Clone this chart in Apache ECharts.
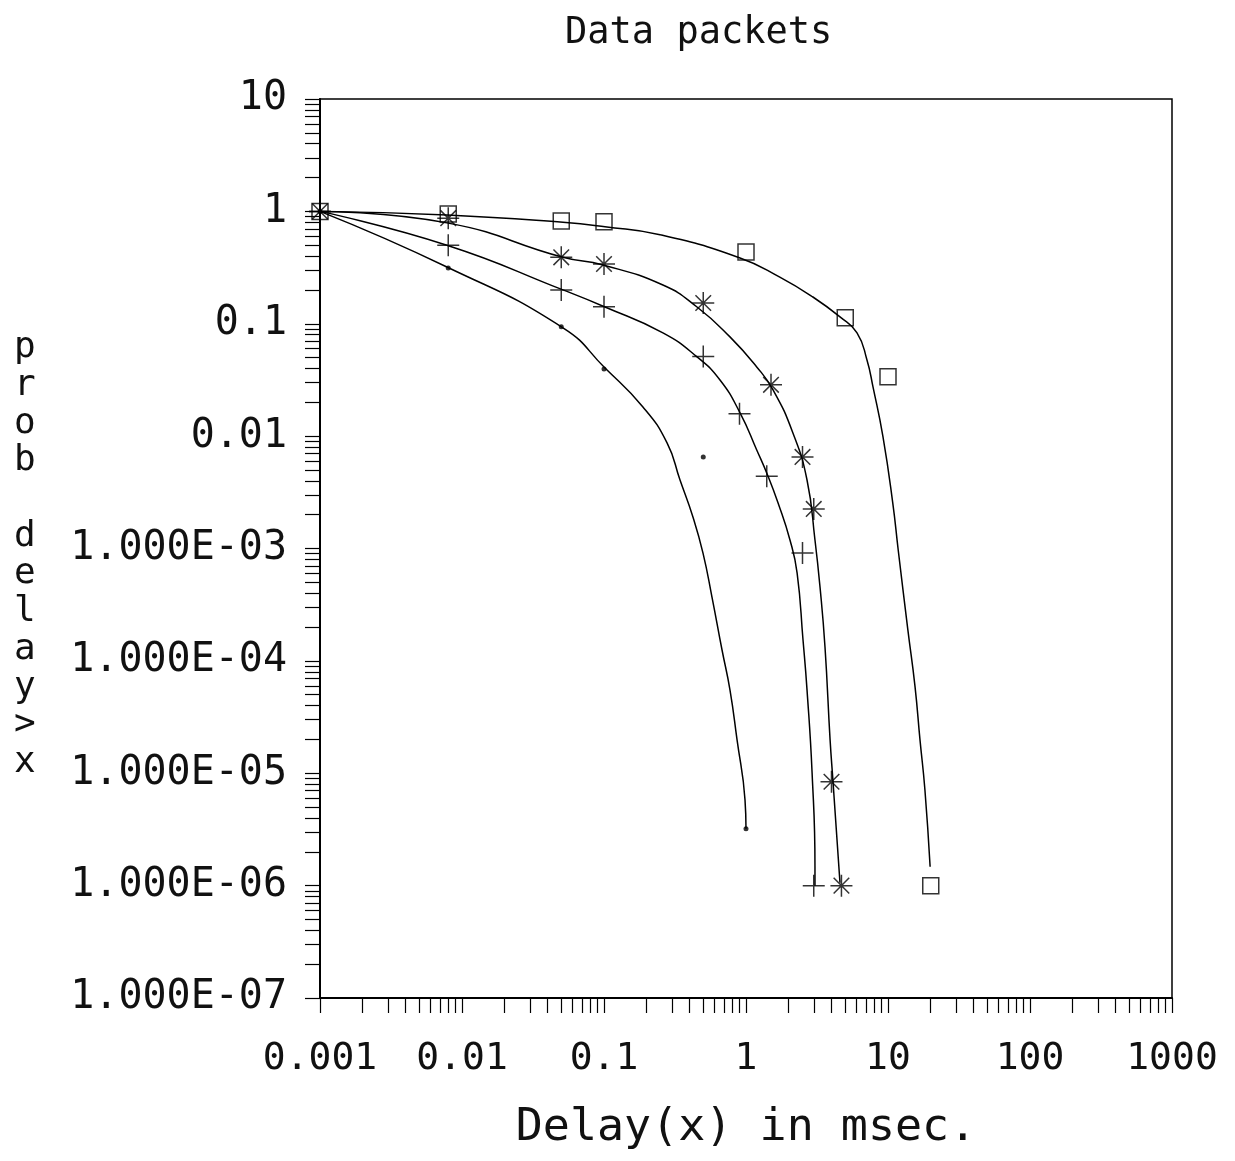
<!DOCTYPE html>
<html>
<head>
<meta charset="utf-8">
<script src="https://cdn.jsdelivr.net/npm/echarts@6/dist/echarts.min.js"></script>
<style>
  html, body { margin: 0; padding: 0; background: #fff; }
  #chart { width: 1235px; height: 1161px; }
</style>
</head>
<body>
<div id="chart"></div>
<script>
// Axis tick labels
const xTickValues = [0.001, 0.01, 0.1, 1, 10, 100, 1000];
const xTickLabels = ['0.001', '0.01', '0.1', '1', '10', '100', '1000'];
const yTickValues = [10, 1, 0.1, 0.01, 1e-3, 1e-4, 1e-5, 1e-6, 1e-7];
const yTickLabels = ['10', '1', '0.1', '0.01', '1.000E-03', '1.000E-04', '1.000E-05', '1.000E-06', '1.000E-07'];

// Fitted curves: P(delay > x) against delay x (msec)
const squareCurve = [[0.001, 1], [0.00783, 0.93], [0.0514, 0.80], [0.1016, 0.73], [0.248, 0.62],
  [0.908, 0.385], [1.73, 0.26], [2.96, 0.173], [4.59, 0.115], [6.05, 0.083], [7.11, 0.0476], [7.84, 0.0274],
  [9.22, 0.00984], [10.8, 0.00255], [11.8, 9.7e-4], [13.8, 1.89e-4], [15.5, 5.9e-5], [16.8, 1.98e-5],
  [18.2, 7.1e-6], [19.8, 1.47e-6]];
const starCurve = [[0.001, 1], [0.00783, 0.79], [0.0514, 0.39], [0.0984, 0.333], [0.260, 0.221], [0.452, 0.141],
  [0.771, 0.0764], [1.19, 0.0413], [1.55, 0.0258], [2.14, 0.01067], [2.69, 0.00407], [3.06, 0.00119],
  [3.32, 4.55e-4], [3.60, 1.33e-4], [3.91, 1.98e-5], [4.10, 8.4e-6], [4.59, 1.06e-6]];
const plusCurve = [[0.001, 1], [0.00783, 0.50], [0.0514, 0.20], [0.1016, 0.141], [0.260, 0.083], [0.452, 0.0507],
  [0.656, 0.0316], [0.908, 0.0161], [1.19, 0.00753], [1.43, 0.0044], [1.68, 0.00255], [2.04, 0.00119],
  [2.29, 6.07e-4], [2.52, 1.54e-4], [2.69, 5.52e-5], [2.92, 1.01e-5], [3.06, 1.47e-6], [3.06, 1e-6]];
const dotCurve = [[0.001, 1], [0.00783, 0.32], [0.0514, 0.092], [0.1016, 0.0404], [0.188, 0.0182], [0.278, 0.00871],
  [0.343, 0.00407], [0.423, 0.00191], [0.498, 9.1e-4], [0.576, 3.7e-4], [0.678, 1.25e-4],
  [0.771, 5.52e-5], [0.865, 1.98e-5], [0.984, 5.8e-6], [1.0, 3.2e-6]];

// Simulated points
const squarePts = [[0.001, 1], [0.008, 0.95], [0.05, 0.82], [0.1, 0.81], [1, 0.435], [5, 0.113], [10, 0.0337], [20, 1e-6]];
const starPts = [[0.001, 1], [0.008, 0.87], [0.05, 0.39], [0.1, 0.34], [0.5, 0.153], [1.5, 0.0286], [2.5, 0.00653],
  [3, 0.00225], [4, 8.4e-6], [4.7, 1e-6]];
const plusPts = [[0.001, 1], [0.008, 0.5], [0.05, 0.2], [0.1, 0.142], [0.5, 0.051], [0.9, 0.0158], [1.4, 0.0044],
  [2.5, 9.1e-4], [3, 1e-6]];
const dotPts = [[0.001, 1], [0.008, 0.313], [0.05, 0.094], [0.1, 0.0396], [0.5, 0.00653], [1, 3.2e-6]];

// Log ticks at 1..9 of every decade
function decadeTicks(lo, hi) {
  const out = [];
  for (let e = lo; e < hi; e++) {
    for (let m = 1; m < 10; m++) out.push(m * Math.pow(10, e));
  }
  out.push(Math.pow(10, hi));
  return out;
}

function labelFor(values, labels) {
  return function (v) {
    const e = Math.round(Math.log10(v));
    for (let i = 0; i < values.length; i++) {
      if (Math.round(Math.log10(values[i])) === e) return labels[i];
    }
    return '';
  };
}

const FONT = '"DejaVu Sans Mono", "Liberation Mono", monospace';
const INK = '#111';
const STAR = 'path://M0,11L22,11M11,0L11,22M3.2,3.2L18.8,18.8M18.8,3.2L3.2,18.8';
const PLUS = 'path://M0,11L22,11M11,0L11,22';

function curve(data) {
  return {
    type: 'line', data: data, showSymbol: false, symbol: 'none', smooth: 0.5,
    lineStyle: { color: '#000', width: 1.5 }, z: 2, silent: true
  };
}
function points(data, symbol, size, filled) {
  return {
    type: 'scatter', data: data, symbol: symbol, symbolSize: size, z: 3, silent: true,
    itemStyle: filled ? { color: '#000' } : { color: 'rgba(0,0,0,0)', borderColor: '#000', borderWidth: 1.5 }
  };
}

const chart = echarts.init(document.getElementById('chart'), null, { renderer: 'canvas' });
chart.setOption({
  animation: false,
  backgroundColor: '#fff',
  title: {
    text: 'Data packets', left: 565, top: 15, padding: 0,
    textStyle: { fontFamily: FONT, fontSize: 37, fontWeight: 'normal', color: INK }
  },
  // vertical y-axis caption, one letter per line
  graphic: [{
    type: 'text', left: 14, top: 329, silent: true,
    style: { text: 'p\nr\no\nb\n\nd\ne\nl\na\ny\n>\nx', font: '36px ' + FONT, lineHeight: 37.7, fill: INK }
  }],
  grid: { left: 320, right: 63, top: 99, bottom: 163, show: true, borderColor: '#000', borderWidth: 1.5 },
  xAxis: {
    type: 'log', logBase: 10, min: 0.001, max: 1000,
    name: 'Delay(x) in msec.', nameLocation: 'middle', nameGap: 108,
    nameTextStyle: { fontFamily: FONT, fontSize: 45, color: INK },
    axisLine: { lineStyle: { color: '#000', width: 2 } },
    axisTick: { show: true, inside: false, length: 15, customValues: decadeTicks(-3, 3), lineStyle: { color: '#000', width: 1.2 } },
    axisLabel: { customValues: xTickValues, formatter: labelFor(xTickValues, xTickLabels), margin: 42,
      fontFamily: FONT, fontSize: 38, color: INK },
    splitLine: { show: false }
  },
  yAxis: {
    type: 'log', logBase: 10, min: 1e-7, max: 10,
    axisLine: { lineStyle: { color: '#000', width: 2 } },
    axisTick: { show: true, inside: false, length: 15, customValues: decadeTicks(-7, 1), lineStyle: { color: '#000', width: 1.2 } },
    axisLabel: { customValues: yTickValues, formatter: labelFor(yTickValues, yTickLabels), margin: 33,
      fontFamily: FONT, fontSize: 40, color: INK },
    splitLine: { show: false }
  },
  series: [
    curve(squareCurve), curve(starCurve), curve(plusCurve), curve(dotCurve),
    points(squarePts, 'rect', 16, false),
    points(starPts, STAR, 22, false),
    points(plusPts, PLUS, 22, false),
    points(dotPts, 'circle', 5, true)
  ]
});
</script>
</body>
</html>
